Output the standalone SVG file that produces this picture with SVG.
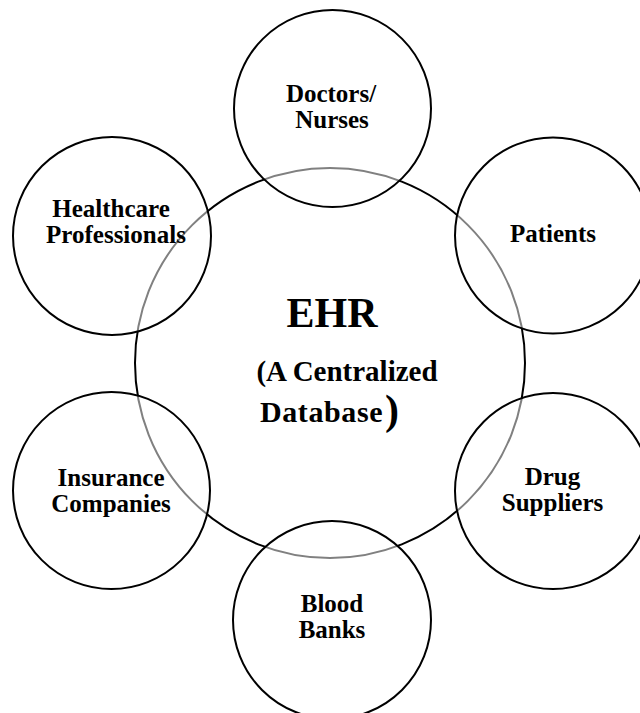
<svg xmlns="http://www.w3.org/2000/svg" width="640" height="713" viewBox="0 0 640 713">
<style>
.bg{fill:#fff}
.hub{fill:none;stroke:#000;stroke-width:2}
.sat{fill:#fff;fill-opacity:0.5;stroke:#000;stroke-width:2}
.lbl{font-family:"Liberation Serif","Times New Roman",serif;font-weight:bold;font-size:25px;fill:#000;text-anchor:middle}
.big{font-family:"Liberation Serif","Times New Roman",serif;font-weight:bold;fill:#000;text-anchor:middle}
</style>
<rect class="bg" x="0" y="0" width="640" height="713"/>
<g id="ehr-circle">
<circle class="hub" cx="330" cy="363" r="195"/>
</g>
<g id="doctors">
<circle class="sat" cx="332.5" cy="108.5" r="98.5"/>
<text class="lbl" x="331" y="101.7">Doctors/</text>
<text class="lbl" x="332" y="128">Nurses</text>
</g>
<g id="healthcare">
<circle class="sat" cx="112" cy="236" r="99"/>
<text class="lbl" x="111" y="217.3">Healthcare</text>
<text class="lbl" x="116" y="243.3">Professionals</text>
</g>
<g id="patients">
<circle class="sat" cx="553" cy="235.5" r="98"/>
<text class="lbl" x="553" y="241.7">Patients</text>
</g>
<g id="drug">
<circle class="sat" cx="553" cy="491" r="98"/>
<text class="lbl" x="552.5" y="485">Drug</text>
<text class="lbl" x="552.5" y="511">Suppliers</text>
</g>
<g id="insurance">
<circle class="sat" cx="111.5" cy="490.5" r="98.5"/>
<text class="lbl" x="111" y="486">Insurance</text>
<text class="lbl" x="111" y="511.7">Companies</text>
</g>
<g id="blood">
<circle class="sat" cx="332" cy="620" r="99"/>
<text class="lbl" x="332" y="612.3">Blood</text>
<text class="lbl" x="332" y="638.3">Banks</text>
</g>
<g id="ehr-text">
<text class="big" x="332" y="326.7" font-size="42">EHR</text>
<text class="big" x="347" y="380.7" font-size="29">(A Centralized</text>
<text class="big" x="260" y="422" font-size="30" style="text-anchor:start;letter-spacing:0.6px">Database</text>
<text class="big" x="392" y="424" font-size="42">)</text>
</g>
</svg>
